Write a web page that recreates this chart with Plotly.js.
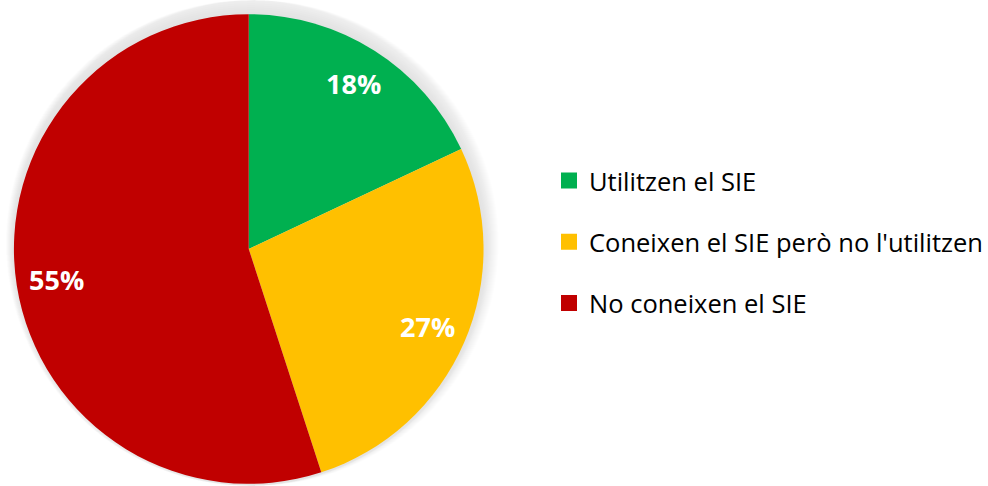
<!DOCTYPE html>
<html>
<head>
<meta charset="utf-8">
<script src="https://cdn.plot.ly/plotly-3.0.1.min.js"></script>
<style>
  html, body { margin: 0; padding: 0; background: #ffffff; }
  #chart { width: 988px; height: 486px; }
</style>
</head>
<body>
<div id="chart"></div>
<script>
// dades del gràfic
var categories = ['Utilitzen el SIE', "Coneixen el SIE però no l'utilitzen", 'No coneixen el SIE'];
var percentatges = [18, 27, 55];
var colors = ['#00b050', '#ffc000', '#c00000'];

var W = 988, H = 486;
var cx = 250, cy = 249, R = 236;

// ombra suau al voltant del pastís (cercles grisos)
var shadow = [];
for (var k = 1; k <= 14; k++) {
	var r = R + k * 2;
	shadow.push({
		type: 'pie',
		values: [1],
		labels: ['ombra' + k],
		marker: { colors: ['rgba(0,0,0,0.009)'] },
		textinfo: 'none',
		hoverinfo: 'skip',
		showlegend: false,
		sort: false,
		domain: {
			x: [(cx - r) / W, (cx + r) / W],
			y: [(H - cy - r) / H, (H - cy + r) / H]
		}
	});
}

var pie = {
	type: 'pie',
	values: percentatges,
	labels: categories,
	sort: false,
	direction: 'clockwise',
	rotation: 0,
	marker: { colors: colors, line: { width: 0 } },
	textinfo: 'none',
	hoverinfo: 'label+percent',
	showlegend: false,
	domain: {
		x: [(cx - R) / W, (cx + R) / W],
		y: [(H - cy - R) / H, (H - cy + R) / H]
	}
};

// etiquetes de percentatge, col·locades sobre l'angle mitjà de cada sector
var total = percentatges.reduce(function (a, b) { return a + b; }, 0);
var annotations = [];
var acum = 0;
percentatges.forEach(function (v) {
	var mid = (acum + v / 2) / total * 2 * Math.PI;
	acum += v;
	var px = cx + 0.83 * R * Math.sin(mid);
	var py = cy - 0.83 * R * Math.cos(mid);
	annotations.push({
		x: px / W,
		y: 1 - py / H,
		xref: 'paper',
		yref: 'paper',
		xanchor: 'center',
		yanchor: 'middle',
		showarrow: false,
		text: '<b>' + v + '%</b>',
		font: { family: 'Open Sans', size: 27, color: '#ffffff' }
	});
});

// llegenda feta amb traces buides per poder separar les entrades
var legendTraces = categories.map(function (c, i) {
	return {
		type: 'scatter',
		mode: 'markers',
		x: [null],
		y: [null],
		name: c,
		legendgroup: 'g' + i,
		marker: { symbol: 'square', size: 16, color: colors[i] },
		hoverinfo: 'skip',
		showlegend: true
	};
});

var data = shadow.concat([pie]).concat(legendTraces);

var layout = {
	width: W,
	height: H,
	margin: { l: 0, r: 0, t: 0, b: 0, pad: 0 },
	paper_bgcolor: '#ffffff',
	plot_bgcolor: 'rgba(0,0,0,0)',
	xaxis: { visible: false, domain: [0.99, 1] },
	yaxis: { visible: false, domain: [0.99, 1] },
	showlegend: true,
	legend: {
		x: 552 / W,
		xanchor: 'left',
		y: 1 - 242 / H,
		yanchor: 'middle',
		tracegroupgap: 25,
		font: { family: 'Open Sans', size: 25.5, color: '#000000' },
		bgcolor: 'rgba(0,0,0,0)'
	},
	annotations: annotations,
	font: { family: 'Open Sans' }
};

Plotly.newPlot('chart', data, layout, { displayModeBar: false, staticPlot: true });
</script>
</body>
</html>
